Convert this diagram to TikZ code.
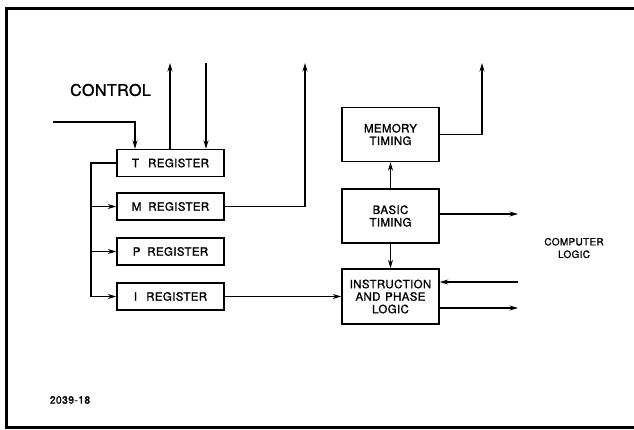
\documentclass[tikz,border=0pt]{standalone}
\usepackage{fontspec}
\setmainfont{TeX Gyre Heros}[FakeBold=1.2,LetterSpace=3]
\usetikzlibrary{arrows.meta}
\begin{document}
\begin{tikzpicture}[x=1pt,y=-1pt,
  blk/.style={draw,line width=1.4pt,inner sep=0pt,align=center,font=\fontsize{11.5}{12.5}\selectfont},
  reg/.style={blk,minimum width=107pt,minimum height=27pt},
  tim/.style={blk,minimum width=97pt,minimum height=54pt},
  wire/.style={line width=1.3pt},
  arr/.style={wire,-{Stealth[length=8.5pt,width=5pt]}},
  lbl/.style={inner sep=0pt,align=center}]
\useasboundingbox (0,0) rectangle (634,429);
\draw[line width=3pt] (634,8) -- (6,8) -- (6,427) -- (634,427);
% registers
\node[reg] (T) at (170.5,163) {T\hspace{0.8em}REGISTER};
\node[reg] (M) at (170.5,206.5) {M\hspace{0.6em}REGISTER};
\node[reg] (P) at (170.5,251.5) {P\hspace{0.6em}REGISTER};
\node[reg] (I) at (170.5,296.5) {I\hspace{0.8em}REGISTER};
% timing blocks
\node[tim] (MT) at (390.5,134.5) {MEMORY\\TIMING};
\node[tim] (BT) at (390.5,216) {BASIC\\TIMING};
\node[tim,minimum height=55pt] (IP) at (390.5,296.5) {INSTRUCTION\\AND\hspace{0.4em}PHASE\\LOGIC};
% labels
\node[lbl,font=\fontsize{16}{18}\selectfont] (ctl) at (110.5,90) {CONTROL};
\node[lbl,font=\fontsize{10}{12.5}\selectfont] (cl) at (574,248) {COMPUTER\\LOGIC};
\node[lbl,font=\fontsize{10.5}{12}\selectfont] (num) at (70,400) {2039-18};
% coordinates
\coordinate (ctlin) at (53,122);
\coordinate (tup) at (170,63);
\coordinate (tdn) at (206,63);
\coordinate (mup) at (305,63);
\coordinate (busb) at (91,296.5);
\coordinate (memup) at (482,63);
\coordinate (bout) at (518,214);
\coordinate (cin) at (518,282);
\coordinate (iout) at (518,308);
% connectors
\draw[arr] (ctlin) -| ([xshift=-35.5pt]T.north);
\draw[arr] (tup |- T.north) -- (tup);
\draw[arr] (tdn) -- (tdn |- T.north);
\draw[arr] (M.east) -| (mup);
\draw[wire] (T.west) -| (busb);
\draw[arr] (busb) -- (I.west);
\draw[arr] (busb |- M.west) -- (M.west);
\draw[arr] (busb |- P.west) -- (P.west);
\draw[arr] (I.east) -- (IP.west);
\draw[arr] (BT.north) -- (MT.south);
\draw[arr] (BT.south) -- (IP.north);
\draw[arr] (MT.east) -| (memup);
\draw[arr] (BT.east |- bout) -- (bout);
\draw[arr] (cin) -- (cin -| IP.east);
\draw[arr] (iout -| IP.east) -- (iout);
\end{tikzpicture}
\end{document}
